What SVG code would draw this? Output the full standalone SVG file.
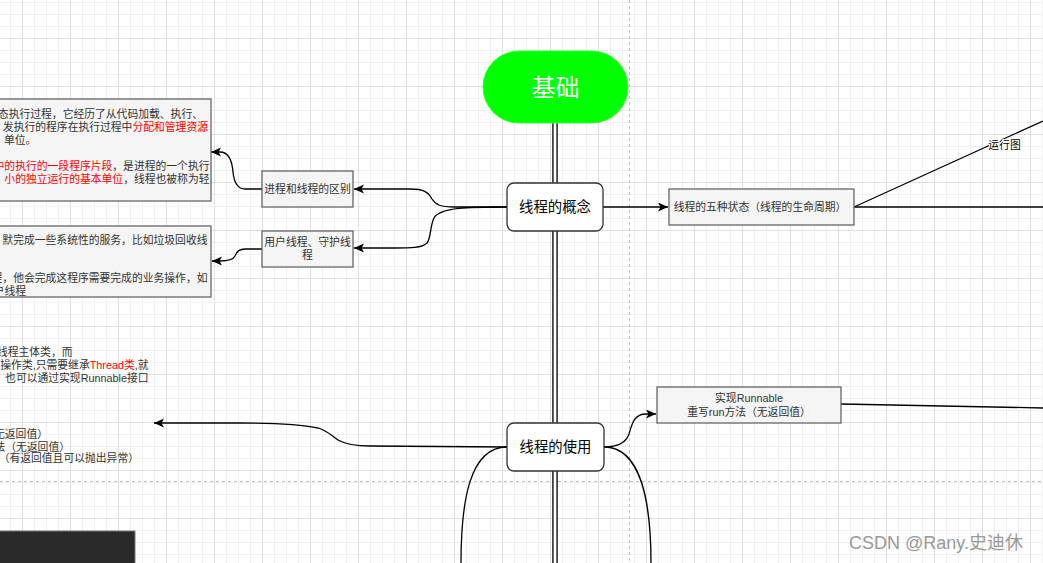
<svg xmlns="http://www.w3.org/2000/svg" width="1043" height="563" viewBox="0 0 1043 563">
<defs>
<pattern id="grid" patternUnits="userSpaceOnUse" x="22" y="38" width="48" height="48">
<path d="M12.5,0V48M24.5,0V48M36.5,0V48M0,12.5H48M0,24.5H48M0,36.5H48" stroke="#f0f0f0" stroke-width="1" fill="none"/>
<path d="M0.5,0V48M0,0.5H48" stroke="#e0e0e0" stroke-width="1" fill="none"/>
</pattern>
<marker id="arr" markerUnits="userSpaceOnUse" markerWidth="11" markerHeight="10" refX="10" refY="4.5" orient="auto">
<path d="M0,0 L10,4.5 L0,9 L2.5,4.5 Z" fill="#000"/>
</marker>
</defs>
<style>
text{font-family:"Liberation Sans","Noto Sans CJK SC",sans-serif;}
.box{fill:#f5f5f5;stroke:#666;stroke-width:1.3;}
.bt{font-size:10.8px;fill:#333;}
.red{fill:#ff0000;}
.main{fill:#fff;stroke:#333;stroke-width:1.3;}
.mt{font-size:14.4px;fill:#000;text-anchor:middle;}
.edge{fill:none;stroke:#000;stroke-width:1.3;}
.arrow{marker-end:url(#arr);}
.page{stroke:#c0c0c0;stroke-width:1;stroke-dasharray:3 3;fill:none;}
</style>
<rect width="1043" height="563" fill="#fff"/>
<rect width="1043" height="563" fill="url(#grid)"/>
<path class="page" d="M629.5,0V563M0,481.5H1043"/>

<g id="stem">
<path d="M555,123V563" stroke="#444" stroke-width="6" fill="none"/>
<path d="M555,123V563" stroke="#fff" stroke-width="2.4" fill="none"/>
</g>

<g id="connectors">
<path class="edge arrow" d="M507,207 L455,207 C440,207 436,205 432,199 C428,192 424,189 410,189 L354,189"/>
<path class="edge arrow" d="M507,207 C470,207 440,207 434,218 C430,226 431,238 427,243 C422,248 410,248 395,248 L354,248"/>
<path class="edge arrow" d="M262,189 L245,189 C237,189 234,182 233,172 C232,160 228,152 220,152 L211,152"/>
<path class="edge arrow" d="M262,249 L245,249 C238,249 236,253 235,256 C233,260 228,261 220,261 L212,261"/>
<path class="edge arrow" d="M603,207 L668,207"/>
<path class="edge" d="M854,207 L1043,121"/>
<path class="edge" d="M854,207 L1043,207"/>
<rect x="989" y="139" width="31" height="13" fill="#fff"/>
<text x="1004.5" y="149" class="bt" style="fill:#000;text-anchor:middle">运行图</text>
<path class="edge arrow" d="M507,447 L370,446 C355,446 345,444 338,440 C332,436 328,431 318,428 C300,424 270,423 240,423 L154,423"/>
<path class="edge arrow" d="M604,447 C618,447 626,443 629,434 C632,424 634,414 646,414 L656,414"/>
<path class="edge" d="M841,404 L1043,408"/>
<path class="edge" d="M507,447 C470,447 461,500 461,563"/>
<path class="edge" d="M604,447 C640,447 651,500 651,563"/>
</g>

<g id="node-jichu">
<rect x="483" y="51" width="145" height="72" rx="36" fill="#00ff00" stroke="#33ff33" stroke-width="1"/>
<text x="555.5" y="96" style="font-size:24px;fill:#fff;text-anchor:middle">基础</text>
</g>

<g id="node-gainian">
<rect class="main" x="507" y="183" width="96" height="48" rx="7"/>
<text class="mt" x="555" y="212">线程的概念</text>
</g>

<g id="node-shiyong">
<rect class="main" x="507" y="423" width="97" height="48" rx="7"/>
<text class="mt" x="555.5" y="452">线程的使用</text>
</g>

<g id="node-qubie">
<rect class="box" x="262" y="171" width="91" height="36"/>
<text class="bt" x="307.5" y="193" text-anchor="middle">进程和线程的区别</text>
</g>

<g id="node-yonghu">
<rect class="box" x="262" y="231" width="91" height="36"/>
<text class="bt" x="307.5" y="246" text-anchor="middle">用户线程、守护线</text>
<text class="bt" x="307.5" y="259" text-anchor="middle">程</text>
</g>

<g id="node-zhuangtai">
<rect class="box" x="669" y="189" width="185" height="36"/>
<text class="bt" x="760" y="211" text-anchor="middle">线程的五种状态（线程的生命周期）</text>
</g>

<g id="node-runnable">
<rect class="box" x="657" y="387" width="184" height="36"/>
<text class="bt" x="749" y="402" text-anchor="middle">实现Runnable</text>
<text class="bt" x="749" y="416" text-anchor="middle">重写run方法（无返回值）</text>
</g>

<g id="node-left-1">
<rect class="box" x="-200" y="99" width="411" height="102"/>
<text class="bt" x="203" y="118" text-anchor="end">态执行过程，它经历了从代码加载、执行、</text>
<text class="bt" x="208" y="131" text-anchor="end">发执行的程序在执行过程中<tspan class="red">分配和管理资源</tspan></text>
<text class="bt" x="4" y="144">单位。</text>
<text class="bt" x="209.5" y="170" text-anchor="end"><tspan class="red">中的执行的一段程序片段</tspan>，是进程的一个执行</text>
<text class="bt" x="209.5" y="183" text-anchor="end"><tspan class="red">小的独立运行的基本单位</tspan>，线程也被称为轻</text>
</g>

<g id="node-left-2">
<rect class="box" x="-200" y="226" width="411" height="71"/>
<text class="bt" x="207.5" y="244" text-anchor="end">默完成一些系统性的服务，比如垃圾回收线</text>
<text class="bt" x="207.5" y="282" text-anchor="end">程，他会完成这程序需要完成的业务操作，如</text>
<text class="bt" x="26" y="295" text-anchor="end">户线程</text>
</g>

<g id="node-left-3">
<text class="bt" x="72.5" y="356" text-anchor="end">线程主体类，而</text>
<text class="bt" x="148.5" y="369" text-anchor="end">操作类,只需要继承<tspan class="red">Thread类</tspan>,就</text>
<text class="bt" x="148.5" y="382" text-anchor="end">也可以通过实现Runnable接口</text>
<text class="bt" x="48" y="438" text-anchor="end">无返回值）</text>
<text class="bt" x="70" y="451" text-anchor="end">法（无返回值）</text>
<text class="bt" x="139" y="462" text-anchor="end">（有返回值且可以抛出异常）</text>
</g>

<g id="node-dark">
<rect x="-10" y="531" width="145" height="50" fill="#2a2a2a" stroke="#777" stroke-width="1"/>
</g>

<text x="849" y="549" style="font-size:18px;fill:#999">CSDN @Rany.史迪休</text>
</svg>
